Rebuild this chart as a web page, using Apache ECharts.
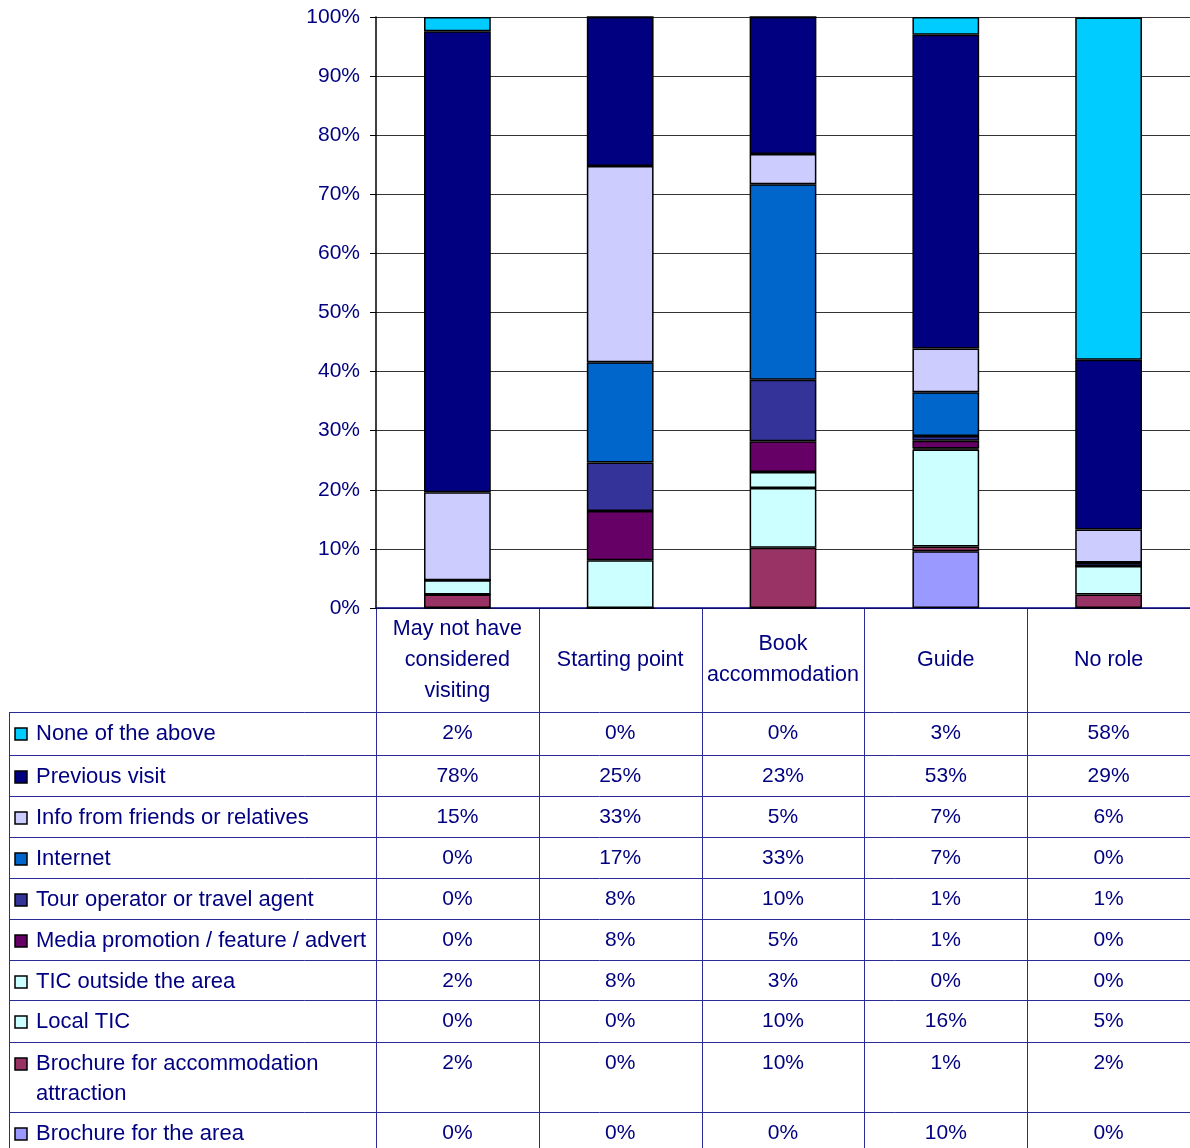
<!DOCTYPE html>
<html>
<head>
<meta charset="utf-8">
<script src="https://cdn.jsdelivr.net/npm/echarts@6/dist/echarts.min.js"></script>
<style>
  html, body { margin: 0; padding: 0; background: #fff; }
  #chart { width: 1190px; height: 1148px; }
</style>
</head>
<body>
<div id="chart"></div>
<script>
// categories (x axis / table header)
const categories = ['May not have\nconsidered\nvisiting', 'Starting point', 'Book\naccommodation', 'Guide', 'No role']
// series values in %
const noneAbove = [2.4, 0, 0, 3.0, 57.9]
const previousVisit = [78.0, 25.2, 23.2, 53.1, 28.7]
const friendsInfo = [14.9, 33.2, 5.1, 7.4, 5.6]
const internet = [0, 17.0, 33.1, 7.4, 0]
const tourOperator = [0, 8.2, 10.4, 0.8, 0.6]
const mediaPromo = [0, 8.3, 5.2, 1.3, 0]
const ticOutside = [2.4, 8.1, 2.7, 0.2, 0]
const localTic = [0, 0, 10.1, 16.4, 4.8]
const brochureAccom = [2.3, 0, 10.2, 0.8, 2.3]
const brochureArea = [0, 0, 0, 9.6, 0]

// table order (top to bottom) = reverse of stack order
const tableSeries = [
  { name: 'None of the above', label: ['None of the above'], data: noneAbove, color: '#00CCFF' },
  { name: 'Previous visit', label: ['Previous visit'], data: previousVisit, color: '#000080' },
  { name: 'Info from friends or relatives', label: ['Info from friends or relatives'], data: friendsInfo, color: '#CCCCFF' },
  { name: 'Internet', label: ['Internet'], data: internet, color: '#0066CC' },
  { name: 'Tour operator or travel agent', label: ['Tour operator or travel agent'], data: tourOperator, color: '#333399' },
  { name: 'Media promotion / feature / advert', label: ['Media promotion / feature / advert'], data: mediaPromo, color: '#660066' },
  { name: 'TIC outside the area', label: ['TIC outside the area'], data: ticOutside, color: '#CCFFFF' },
  { name: 'Local TIC', label: ['Local TIC'], data: localTic, color: '#CCFFFF' },
  { name: 'Brochure for accommodation attraction', label: ['Brochure for accommodation', 'attraction'], data: brochureAccom, color: '#993366' },
  { name: 'Brochure for the area', label: ['Brochure for the area'], data: brochureArea, color: '#9999FF' },
]

const FONT = '"Liberation Sans", Arial, sans-serif'
const TEXT = '#000080'
const LINE = '#2b2b96'

const gridLeft = 376
const gridTop = 17
const gridRight = 1190
const gridBottom = 608
const colW = (gridRight - gridLeft) / categories.length
const headerBottom = 712
const rowHeights = [43, 41, 41, 41, 41, 41, 40, 42, 70, 40]

const myChart = echarts.init(document.getElementById('chart'))

const series = tableSeries.slice().reverse().map(s => ({
  name: s.name,
  type: 'bar',
  stack: 'total',
  data: s.data,
  barWidth: '41%',
  itemStyle: { color: s.color, borderColor: '#000', borderWidth: 1.5 },
  emphasis: { disabled: true },
}))

// table drawing
const graphics = []
function hLine(x1, x2, y) {
  graphics.push({ type: 'line', shape: { x1, y1: y, x2, y2: y }, style: { stroke: LINE, lineWidth: 1 }, silent: true })
}
function vLine(x, y1, y2) {
  graphics.push({ type: 'line', shape: { x1: x, y1, x2: x, y2 }, style: { stroke: LINE, lineWidth: 1 }, silent: true })
}

// vertical column separators
for (let c = 0; c <= categories.length; c++) {
  vLine(Math.round(gridLeft + c * colW) + 0.5, gridBottom, 1148)
}
vLine(9.5, headerBottom, 1148)

let y = headerBottom
tableSeries.forEach((s, i) => {
  hLine(9, gridRight, y + 0.5)
  const cy = y + 22
  graphics.push({
    type: 'rect',
    shape: { x: 15, y: cy - 6, width: 12, height: 12 },
    style: { fill: s.color, stroke: '#000', lineWidth: 1.5 },
    silent: true,
  })
  s.label.forEach((t, k) => {
    graphics.push({
      type: 'text',
      style: { text: t, x: 36, y: cy + k * 30, fill: TEXT, font: '22px ' + FONT, align: 'left', verticalAlign: 'middle' },
      silent: true,
    })
  })
  s.data.forEach((v, c) => {
    graphics.push({
      type: 'text',
      style: {
        text: Math.round(v) + '%',
        x: gridLeft + (c + 0.5) * colW,
        y: cy - 1,
        fill: TEXT,
        font: '21px ' + FONT,
        align: 'center',
        verticalAlign: 'middle',
      },
      silent: true,
    })
  })
  y += rowHeights[i]
})

const option = {
  animation: false,
  backgroundColor: '#fff',
  grid: {
    left: gridLeft,
    top: gridTop,
    width: gridRight - gridLeft,
    height: gridBottom - gridTop,
  },
  xAxis: {
    type: 'category',
    data: categories,
    axisLine: { lineStyle: { color: TEXT, width: 1.5 } },
    axisTick: { show: false },
    axisLabel: {
      interval: 0,
      margin: 52,
      verticalAlign: 'middle',
      lineHeight: 31,
      color: TEXT,
      fontSize: 21.5,
      fontFamily: FONT,
    },
  },
  yAxis: {
    type: 'value',
    min: 0,
    max: 100,
    interval: 10,
    axisLine: { show: true, lineStyle: { color: '#000', width: 1.5 } },
    axisTick: { show: true, length: 6, lineStyle: { color: '#000' } },
    axisLabel: {
      formatter: '{value}%',
      color: TEXT,
      fontSize: 21,
      fontFamily: FONT,
      margin: 16,
    },
    splitLine: { lineStyle: { color: '#333', width: 1 } },
  },
  series: series,
  graphic: graphics,
}

myChart.setOption(option)
</script>
</body>
</html>
